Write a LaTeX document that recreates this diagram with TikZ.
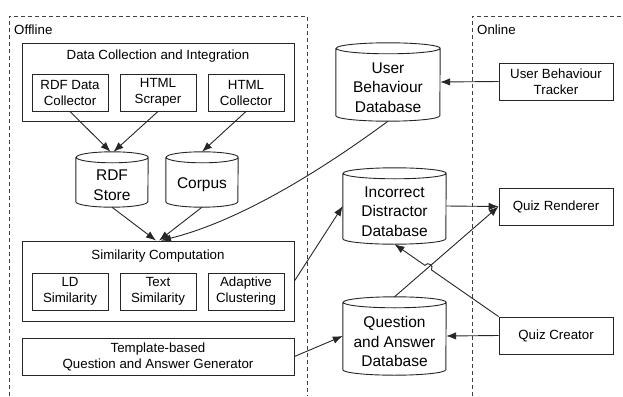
\documentclass[tikz,border=0pt]{standalone}
\usepackage{fontspec}
\setmainfont{Liberation Sans}
\usetikzlibrary{calc,arrows.meta,shadows,intersections}
\tikzset{
  lw/.style={line width=0.9pt, draw=black!85},
  box/.style={lw, fill=white, rectangle, inner sep=0pt, align=center,
    font=\fontsize{13.3}{16}\selectfont,
    drop shadow={shadow xshift=1.2pt, shadow yshift=-1.2pt, opacity=0.25, fill=black}},
  frame/.style={lw, fill=white, rectangle, inner sep=0pt,
    drop shadow={shadow xshift=1.2pt, shadow yshift=-1.2pt, opacity=0.25, fill=black}},
  ttl/.style={font=\fontsize{13.3}{16}\selectfont, inner sep=0pt},
  dbframe/.style={rectangle, inner sep=0pt},
  dbtext/.style={align=center, inner sep=0pt, font=\fontsize{15.5}{19.5}\selectfont},
  cylline/.style={lw},
  arr/.style={lw, -{Latex[length=10pt,width=7.5pt]}},
  zone/.style={line width=0.8pt, draw=black!75, dash pattern=on 4pt off 3pt},
}
\newcommand\dbnode[6]{%
  \node[dbframe, minimum width=#4pt, minimum height=#5pt] (#1) at (#2,#3) {};
  \fill[white] ([yshift=-5.5pt]#1.north west) -- ([yshift=5.5pt]#1.south west)
    arc[start angle=180,end angle=360,x radius=#4/2,y radius=5.5]
    -- ([yshift=-5.5pt]#1.north east)
    arc[start angle=0,end angle=180,x radius=#4/2,y radius=5.5] -- cycle;
  \draw[cylline] ([yshift=-5.5pt]#1.north west) -- ([yshift=5.5pt]#1.south west)
    arc[start angle=180,end angle=360,x radius=#4/2,y radius=5.5]
    -- ([yshift=-5.5pt]#1.north east)
    arc[start angle=0,end angle=360,x radius=#4/2,y radius=5.5];
  \node[dbtext] (#1-t) at ([yshift=-5.5pt]#1.center) {#6};
}
\begin{document}
\begin{tikzpicture}[x=1pt,y=1pt]
\useasboundingbox (0,0) rectangle (623,-396);
% zones
\draw[zone] (9,-396) -- (9,-16) -- (307,-16) -- (307,-396);
\draw[zone] (472,-396) -- (472,-16) -- (624,-16);
\node[ttl, anchor=west] (offl) at (14,-29.5) {Offline};
\node[ttl, anchor=west] (onl) at (477,-29.5) {Online};

% data collection
\node[frame, minimum width=272pt, minimum height=78pt] (dci) at (158,-82) {};
\node[ttl] (dcit) at (158,-56) {Data Collection and Integration};
\node[box, minimum width=76pt, minimum height=37pt] (rdc) at (70,-92.5) {RDF Data\\Collector};
\node[box, minimum width=76pt, minimum height=37pt] (hs) at (158,-92.5) {HTML\\Scraper};
\node[box, minimum width=76pt, minimum height=37pt] (hc) at (246,-92.5) {HTML\\Collector};

% stores
\dbnode{rdf}{112}{-179.5}{72}{55}{RDF\\Store}
\dbnode{corp}{202}{-179.5}{72}{55}{Corpus}

% similarity
\node[frame, minimum width=272pt, minimum height=80pt] (sc) at (158,-281) {};
\node[ttl] (sct) at (158,-256) {Similarity Computation};
\node[box, minimum width=76pt, minimum height=37pt] (ld) at (70,-291.5) {LD\\Similarity};
\node[box, minimum width=76pt, minimum height=37pt] (ts) at (158,-291.5) {Text\\Similarity};
\node[box, minimum width=76pt, minimum height=37pt] (ac) at (246,-291.5) {Adaptive\\Clustering};

% template
\node[box, minimum width=272pt, minimum height=37pt] (tq) at (158,-356.5) {Template-based\\Question and Answer Generator};

% databases middle
\dbnode{ubd}{388}{-82}{104}{78}{User\\Behaviour\\Database}
\dbnode{idb}{394.5}{-206}{103}{76}{Incorrect\\Distractor\\Database}
\dbnode{qad}{394.5}{-336}{103}{78}{Question\\and Answer\\Database}

% online boxes
\node[box, minimum width=114pt, minimum height=37pt] (ubt) at (556,-81.5) {User Behaviour\\Tracker};
\node[box, minimum width=114pt, minimum height=37pt] (qr) at (556,-206.5) {Quiz Renderer};
\node[box, minimum width=114pt, minimum height=37pt] (qcr) at (556,-335.5) {Quiz Creator};

% arrows
\draw[arr] (rdc.south) -- ([xshift=-1.5pt]rdf.north);
\draw[arr] (hs.south) -- ([xshift=1.5pt]rdf.north);
\draw[arr] (hc.south) -- (corp.north);
\draw[arr] (rdf.south) -- ([xshift=-2pt]sc.north);
\draw[arr] (corp.south) -- ([xshift=1pt]sc.north);
\draw[arr] (ubd.south) .. controls (315,-175) and (236,-222) .. ([xshift=3pt]sc.north);
\draw[arr] (sc.east) -- (idb.west);
\draw[arr] (tq.east) -- (qad.west);
\draw[arr] (ubt.west) -- (ubd.east);
\draw[arr] (idb.east) -- (qr.west);
\draw[arr] (qad.north) -- (qr.west);
\draw[arr] (qcr.west) -- (qad.east);
\path[name path=la] (qcr.north west) -- (idb.south);
\path[name path=lb] (qad.north) -- (qr.west);
\path[name intersections={of=la and lb, by=xx}];
\draw[arr] (qcr.north west) -- ($(xx)!4pt!(qcr.north west)$)
  to[bend right=90, looseness=1.6] ($(xx)!4pt!(idb.south)$) -- (idb.south);
\end{tikzpicture}
\end{document}
